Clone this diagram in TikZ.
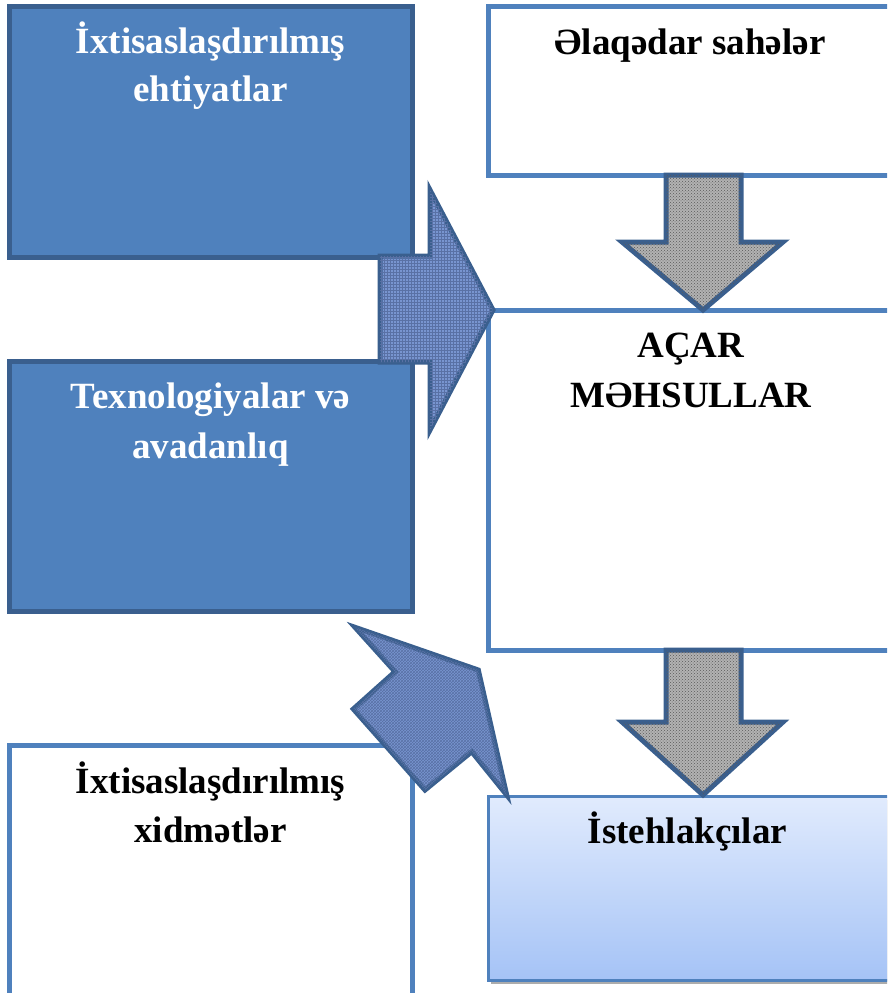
\documentclass[tikz,border=0pt]{standalone}
\usepackage{fontspec}
\setmainfont{Liberation Serif}
\usetikzlibrary{patterns}
\definecolor{accentblue}{HTML}{4F81BD}
\definecolor{darkborder}{HTML}{3A5F8E}
\definecolor{arrowblue}{HTML}{7895D0}
\definecolor{weave}{HTML}{2F4E8E}
\definecolor{graytex}{HTML}{B2B2B2}
\definecolor{graydot}{HTML}{5A5A5A}
\definecolor{gradtop}{HTML}{E1EBFD}
\definecolor{gradbot}{HTML}{A5C3F6}
\begin{document}
\begin{tikzpicture}[x=1pt,y=-1pt,
  darkbox/.style={draw=darkborder, fill=accentblue, line width=5pt, inner sep=0pt},
  whitebox/.style={draw=accentblue, fill=white, line width=5pt, inner sep=0pt},
  gradbox/.style={draw=accentblue, top color=gradtop, bottom color=gradbot, line width=3pt, inner sep=0pt},
  lbl/.style={font=\fontsize{37}{44}\selectfont\bfseries, inner sep=0pt, anchor=base},
  bluearrow/.style={draw=darkborder, line width=5pt, line join=miter, fill=arrowblue,
    postaction={pattern=horizontal lines, pattern color=weave!80},
    postaction={pattern=vertical lines, pattern color=weave!80}},
  diagarrow/.style={draw=darkborder, line width=5pt, line join=miter, fill=arrowblue,
    postaction={pattern=crosshatch, pattern color=weave!80}},
  grayarrow/.style={draw=darkborder, line width=5pt, line join=miter, fill=graytex,
    postaction={pattern=crosshatch dots, pattern color=graydot}}
]
\useasboundingbox (0,0) rectangle (887,993);
\clip (0,0) rectangle (887,993);

% boxes
\node[darkbox, minimum width=403pt, minimum height=251pt] (A) at (210.5,131.5) {};
\node[darkbox, minimum width=403pt, minimum height=250pt] (B) at (210.5,486) {};
\node[whitebox, minimum width=403pt, minimum height=270pt] (C) at (210.5,880) {};
\node[whitebox, minimum width=406pt, minimum height=169pt] (D) at (691,90.5) {};
\node[whitebox, minimum width=406pt, minimum height=340pt] (E) at (691,480) {};
\fill[gray!65] (491,800) rectangle (900,984);
\node[gradbox, minimum width=412pt, minimum height=184pt] (F) at (694,888) {};

% labels
\node[lbl, text=white] (A1) at (210.5,53) {İxtisaslaşdırılmış};
\node[lbl, text=white] (A2) at (210.5,101) {ehtiyatlar};
\node[lbl, text=white] (B1) at (210.5,408) {Texnologiyalar və};
\node[lbl, text=white] (B2) at (210.5,458) {avadanlıq};
\node[lbl] (C1) at (210.5,793) {İxtisaslaşdırılmış};
\node[lbl] (C2) at (210.5,842) {xidmətlər};
\node[lbl] (D1) at (690,54) {Əlaqədar sahələr};
\node[lbl] (E1) at (691,357) {AÇAR};
\node[lbl] (E2) at (691,407) {MƏHSULLAR};
\node[lbl] (F1) at (687.5,843) {İstehlakçılar};

% block arrows
\draw[bluearrow] (380,256) -- (430,256) -- (430,190) -- (493,310) -- (430,430) -- (430,362) -- (380,362) -- cycle;
\draw[grayarrow] (666,175) -- (741,175) -- (741,242) -- (783,242) -- (703,310) -- (622,242) -- (666,242) -- cycle;
\draw[grayarrow] (666,650) -- (741,650) -- (741,722) -- (783,722) -- (703,795) -- (622,722) -- (666,722) -- cycle;
\draw[diagarrow] (353.3,709) -- (395,671.7) -- (355,627.3) -- (478.3,670) -- (506.7,795) -- (471.7,751.7) -- (425,790) -- cycle;
\end{tikzpicture}
\end{document}
